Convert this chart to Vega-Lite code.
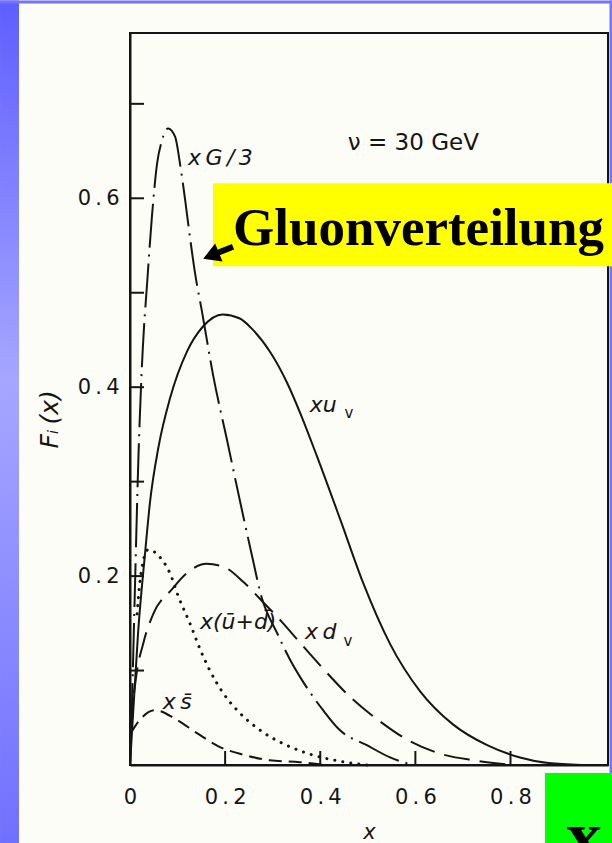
{
  "$schema": "https://vega.github.io/schema/vega-lite/v6.json",
  "width": 478,
  "height": 732,
  "autosize": {"type": "none"},
  "padding": {"left": 130, "right": 4, "top": 33, "bottom": 78},
  "background": "#fdfdf7",
  "config": {
    "view": {"stroke": "#151515", "strokeWidth": 2},
    "axis": {"grid": false}
  },
  "datasets": {
    "curves": [
      {"series": "xu_v", "x": 0.0, "y": 0.0},
      {"series": "xu_v", "x": 0.006, "y": 0.05},
      {"series": "xu_v", "x": 0.017, "y": 0.14},
      {"series": "xu_v", "x": 0.032, "y": 0.226},
      {"series": "xu_v", "x": 0.042, "y": 0.278},
      {"series": "xu_v", "x": 0.06, "y": 0.337},
      {"series": "xu_v", "x": 0.084, "y": 0.388},
      {"series": "xu_v", "x": 0.12, "y": 0.438},
      {"series": "xu_v", "x": 0.153, "y": 0.464},
      {"series": "xu_v", "x": 0.195, "y": 0.477},
      {"series": "xu_v", "x": 0.23, "y": 0.473},
      {"series": "xu_v", "x": 0.258, "y": 0.461},
      {"series": "xu_v", "x": 0.295, "y": 0.437},
      {"series": "xu_v", "x": 0.33, "y": 0.405},
      {"series": "xu_v", "x": 0.36, "y": 0.37},
      {"series": "xu_v", "x": 0.393, "y": 0.327},
      {"series": "xu_v", "x": 0.442, "y": 0.26},
      {"series": "xu_v", "x": 0.49, "y": 0.193},
      {"series": "xu_v", "x": 0.547, "y": 0.128},
      {"series": "xu_v", "x": 0.61, "y": 0.078},
      {"series": "xu_v", "x": 0.679, "y": 0.043},
      {"series": "xu_v", "x": 0.751, "y": 0.021},
      {"series": "xu_v", "x": 0.82, "y": 0.008},
      {"series": "xu_v", "x": 0.88, "y": 0.002},
      {"series": "xu_v", "x": 0.95, "y": 0.0},

      {"series": "xG/3", "x": 0.003, "y": 0.04},
      {"series": "xG/3", "x": 0.01, "y": 0.18},
      {"series": "xG/3", "x": 0.018, "y": 0.33},
      {"series": "xG/3", "x": 0.027, "y": 0.442},
      {"series": "xG/3", "x": 0.036, "y": 0.51},
      {"series": "xG/3", "x": 0.046, "y": 0.58},
      {"series": "xG/3", "x": 0.057, "y": 0.637},
      {"series": "xG/3", "x": 0.067, "y": 0.661},
      {"series": "xG/3", "x": 0.08, "y": 0.674},
      {"series": "xG/3", "x": 0.095, "y": 0.665},
      {"series": "xG/3", "x": 0.105, "y": 0.637},
      {"series": "xG/3", "x": 0.116, "y": 0.598},
      {"series": "xG/3", "x": 0.126, "y": 0.559},
      {"series": "xG/3", "x": 0.137, "y": 0.52},
      {"series": "xG/3", "x": 0.151, "y": 0.481},
      {"series": "xG/3", "x": 0.175, "y": 0.412},
      {"series": "xG/3", "x": 0.204, "y": 0.344},
      {"series": "xG/3", "x": 0.231, "y": 0.28},
      {"series": "xG/3", "x": 0.255, "y": 0.225},
      {"series": "xG/3", "x": 0.277, "y": 0.177},
      {"series": "xG/3", "x": 0.309, "y": 0.14},
      {"series": "xG/3", "x": 0.336, "y": 0.112},
      {"series": "xG/3", "x": 0.364, "y": 0.088},
      {"series": "xG/3", "x": 0.406, "y": 0.058},
      {"series": "xG/3", "x": 0.441, "y": 0.037},
      {"series": "xG/3", "x": 0.498, "y": 0.021},
      {"series": "xG/3", "x": 0.547, "y": 0.008},
      {"series": "xG/3", "x": 0.595, "y": 0.0},

      {"series": "xd_v", "x": 0.0, "y": 0.0},
      {"series": "xd_v", "x": 0.005, "y": 0.055},
      {"series": "xd_v", "x": 0.012, "y": 0.09},
      {"series": "xd_v", "x": 0.028, "y": 0.129},
      {"series": "xd_v", "x": 0.049, "y": 0.16},
      {"series": "xd_v", "x": 0.088, "y": 0.186},
      {"series": "xd_v", "x": 0.119, "y": 0.203},
      {"series": "xd_v", "x": 0.161, "y": 0.213},
      {"series": "xd_v", "x": 0.196, "y": 0.21},
      {"series": "xd_v", "x": 0.238, "y": 0.194},
      {"series": "xd_v", "x": 0.273, "y": 0.176},
      {"series": "xd_v", "x": 0.322, "y": 0.15},
      {"series": "xd_v", "x": 0.36, "y": 0.128},
      {"series": "xd_v", "x": 0.406, "y": 0.102},
      {"series": "xd_v", "x": 0.463, "y": 0.072},
      {"series": "xd_v", "x": 0.526, "y": 0.046},
      {"series": "xd_v", "x": 0.582, "y": 0.027},
      {"series": "xd_v", "x": 0.652, "y": 0.012},
      {"series": "xd_v", "x": 0.722, "y": 0.005},
      {"series": "xd_v", "x": 0.806, "y": 0.0},

      {"series": "x(ū+d̄)", "x": 0.015, "y": 0.16},
      {"series": "x(ū+d̄)", "x": 0.02, "y": 0.19},
      {"series": "x(ū+d̄)", "x": 0.027, "y": 0.214},
      {"series": "x(ū+d̄)", "x": 0.038, "y": 0.228},
      {"series": "x(ū+d̄)", "x": 0.063, "y": 0.22},
      {"series": "x(ū+d̄)", "x": 0.084, "y": 0.203},
      {"series": "x(ū+d̄)", "x": 0.102, "y": 0.178},
      {"series": "x(ū+d̄)", "x": 0.126, "y": 0.15},
      {"series": "x(ū+d̄)", "x": 0.147, "y": 0.123},
      {"series": "x(ū+d̄)", "x": 0.168, "y": 0.1},
      {"series": "x(ū+d̄)", "x": 0.196, "y": 0.076},
      {"series": "x(ū+d̄)", "x": 0.231, "y": 0.055},
      {"series": "x(ū+d̄)", "x": 0.273, "y": 0.037},
      {"series": "x(ū+d̄)", "x": 0.329, "y": 0.021},
      {"series": "x(ū+d̄)", "x": 0.375, "y": 0.012},
      {"series": "x(ū+d̄)", "x": 0.441, "y": 0.004},
      {"series": "x(ū+d̄)", "x": 0.498, "y": 0.0},

      {"series": "xs̄", "x": 0.002, "y": 0.034},
      {"series": "xs̄", "x": 0.021, "y": 0.048},
      {"series": "xs̄", "x": 0.053, "y": 0.058},
      {"series": "xs̄", "x": 0.098, "y": 0.048},
      {"series": "xs̄", "x": 0.14, "y": 0.034},
      {"series": "xs̄", "x": 0.189, "y": 0.019},
      {"series": "xs̄", "x": 0.238, "y": 0.011},
      {"series": "xs̄", "x": 0.294, "y": 0.005},
      {"series": "xs̄", "x": 0.357, "y": 0.003},
      {"series": "xs̄", "x": 0.41, "y": 0.0}
    ]
  },
  "layer": [
    {
      "description": "curves with the shared axes",
      "data": {"name": "curves"},
      "transform": [{"filter": "datum.series == 'xu_v'"}],
      "mark": {"type": "line", "interpolate": "monotone", "color": "#151515", "strokeWidth": 2},
      "encoding": {
        "x": {
          "field": "x", "type": "quantitative",
          "scale": {"domain": [0, 1.005], "nice": false},
          "axis": {
            "values": [0, 0.2, 0.4, 0.6, 0.8],
            "labelExpr": "datum.value == 0 ? '0' : replace(format(datum.value, '.1f'), '.', '\u2009.\u2009')",
            "ticks": false,
            "domainColor": "#151515", "domainWidth": 2,
            "labelFont": "DejaVu Sans", "labelFontSize": 21, "labelColor": "#151515",
            "labelPadding": 21, "labelFlush": false, "labelOverlap": false,
            "title": "x", "titleFont": "DejaVu Sans", "titleFontSize": 21,
            "titleFontStyle": "italic", "titleFontWeight": "normal", "titleColor": "#151515",
            "titlePadding": 14
          }
        },
        "y": {
          "field": "y", "type": "quantitative",
          "scale": {"domain": [0, 0.775], "nice": false},
          "axis": {
            "values": [0.2, 0.4, 0.6],
            "labelExpr": "replace(format(datum.value, '.1f'), '.', '\u2009.\u2009')",
            "ticks": false,
            "domainColor": "#151515", "domainWidth": 2,
            "labelFont": "DejaVu Sans", "labelFontSize": 21, "labelColor": "#151515",
            "labelPadding": 11, "labelFlush": false, "labelOverlap": false,
            "title": null
          }
        }
      }
    },
    {
      "description": "inward ticks on the value axis, every 0.1",
      "data": {"values": [{"v": 0.1}, {"v": 0.2}, {"v": 0.3}, {"v": 0.4}, {"v": 0.5}, {"v": 0.6}, {"v": 0.7}]},
      "mark": {"type": "rule", "color": "#151515", "strokeWidth": 2},
      "encoding": {
        "y": {"field": "v", "type": "quantitative"},
        "x": {"datum": 0},
        "x2": {"datum": 0.0294}
      }
    },
    {
      "description": "inward ticks on the x axis, every 0.2",
      "data": {"values": [{"v": 0.2}, {"v": 0.4}, {"v": 0.6}, {"v": 0.8}]},
      "mark": {"type": "rule", "color": "#151515", "strokeWidth": 2},
      "encoding": {
        "x": {"field": "v", "type": "quantitative"},
        "y": {"datum": 0},
        "y2": {"datum": 0.0148}
      }
    },
    {
      "description": "slide frame strips (left gradient bar)",
      "data": {"values": [{"x": -0.2733, "x1": -0.2334, "y": -0.0825, "y1": 0.8095}]},
      "mark": {
        "type": "rect",
        "color": {
          "gradient": "linear", "x1": 0, "y1": 0, "x2": 0, "y2": 1,
          "stops": [
            {"offset": 0, "color": "#5e5eff"},
            {"offset": 0.45, "color": "#a6a6ff"},
            {"offset": 1, "color": "#7070ff"}
          ]
        }
      },
      "encoding": {
        "x": {"field": "x", "type": "quantitative"},
        "x2": {"field": "x1"},
        "y": {"field": "y", "type": "quantitative"},
        "y2": {"field": "y1"}
      }
    },
    {
      "description": "slide frame strips (top and right bars)",
      "data": {"values": [
        {"x": -0.2733, "x1": 1.0135, "y": 0.8063, "y1": 0.8095},
        {"x": 1.0082, "x1": 1.0135, "y": -0.0825, "y1": 0.8095}
      ]},
      "mark": {"type": "rect", "color": "#7373ff"},
      "encoding": {
        "x": {"field": "x", "type": "quantitative"},
        "x2": {"field": "x1"},
        "y": {"field": "y", "type": "quantitative"},
        "y2": {"field": "y1"}
      }
    },
    {
      "description": "highlight boxes: yellow callout and green corner tag",
      "data": {"values": [
        {"x": 0.1745, "x1": 1.0135, "y": 0.528, "y1": 0.6159, "c": "callout"},
        {"x": 0.8726, "x1": 1.0135, "y": -0.0825, "y1": -0.0085, "c": "tag"}
      ]},
      "mark": {"type": "rect"},
      "encoding": {
        "x": {"field": "x", "type": "quantitative"},
        "x2": {"field": "x1"},
        "y": {"field": "y", "type": "quantitative"},
        "y2": {"field": "y1"},
        "color": {"field": "c", "type": "nominal", "scale": {"domain": ["callout", "tag"], "range": ["#ffff00", "#00ff00"]}, "legend": null}
      }
    },
    {
      "data": {"name": "curves"},
      "transform": [{"filter": "datum.series == 'xG/3'"}],
      "mark": {"type": "line", "interpolate": "monotone", "color": "#151515", "strokeWidth": 2, "strokeDash": [44, 7, 2, 7]},
      "encoding": {
        "x": {"field": "x", "type": "quantitative"},
        "y": {"field": "y", "type": "quantitative"}
      }
    },
    {
      "data": {"name": "curves"},
      "transform": [{"filter": "datum.series == 'xd_v'"}],
      "mark": {"type": "line", "interpolate": "monotone", "color": "#151515", "strokeWidth": 2, "strokeDash": [26, 10]},
      "encoding": {
        "x": {"field": "x", "type": "quantitative"},
        "y": {"field": "y", "type": "quantitative"}
      }
    },
    {
      "data": {"name": "curves"},
      "transform": [{"filter": "datum.series == 'x(ū+d̄)'"}],
      "mark": {"type": "line", "interpolate": "monotone", "color": "#151515", "strokeWidth": 3, "strokeCap": "round", "strokeDash": [0.1, 8]},
      "encoding": {
        "x": {"field": "x", "type": "quantitative"},
        "y": {"field": "y", "type": "quantitative"}
      }
    },
    {
      "data": {"name": "curves"},
      "transform": [{"filter": "datum.series == 'xs̄'"}],
      "mark": {"type": "line", "interpolate": "monotone", "color": "#151515", "strokeWidth": 2, "strokeDash": [13, 7]},
      "encoding": {
        "x": {"field": "x", "type": "quantitative"},
        "y": {"field": "y", "type": "quantitative"}
      }
    },
    {
      "description": "curve labels",
      "data": {"values": [
        {"text": "x\u2009G\u2009/\u20093", "x": 0.122, "y": 0.643},
        {"text": "xu", "x": 0.378, "y": 0.381},
        {"text": "x(ū+d̄)", "x": 0.147, "y": 0.151},
        {"text": "x\u2009d", "x": 0.368, "y": 0.1407},
        {"text": "x\u2009s̄", "x": 0.069, "y": 0.0667}
      ]},
      "mark": {"type": "text", "font": "DejaVu Sans", "fontStyle": "italic", "fontSize": 22, "align": "left", "baseline": "middle", "color": "#151515"},
      "encoding": {
        "x": {"field": "x", "type": "quantitative"},
        "y": {"field": "y", "type": "quantitative"},
        "text": {"field": "text"}
      }
    },
    {
      "description": "valence subscripts",
      "data": {"values": [
        {"text": "v", "x": 0.451, "y": 0.3725},
        {"text": "v", "x": 0.449, "y": 0.131}
      ]},
      "mark": {"type": "text", "font": "DejaVu Sans", "fontSize": 15, "align": "left", "baseline": "middle", "color": "#151515"},
      "encoding": {
        "x": {"field": "x", "type": "quantitative"},
        "y": {"field": "y", "type": "quantitative"},
        "text": {"field": "text"}
      }
    },
    {
      "description": "beam energy note",
      "data": {"values": [{"text": "ν = 30 GeV", "x": 0.458, "y": 0.659}]},
      "mark": {"type": "text", "font": "DejaVu Sans", "fontSize": 23, "align": "left", "baseline": "middle", "color": "#151515"},
      "encoding": {
        "x": {"field": "x", "type": "quantitative"},
        "y": {"field": "y", "type": "quantitative"},
        "text": {"field": "text"}
      }
    },
    {
      "description": "y axis title",
      "data": {"values": [{"text": "Fᵢ\u2009(x)", "x": -0.168, "y": 0.366}]},
      "mark": {"type": "text", "font": "DejaVu Sans", "fontStyle": "italic", "fontSize": 25, "angle": 270, "align": "center", "baseline": "middle", "color": "#151515"},
      "encoding": {
        "x": {"field": "x", "type": "quantitative"},
        "y": {"field": "y", "type": "quantitative"},
        "text": {"field": "text"}
      }
    },
    {
      "description": "callout arrow shaft",
      "data": {"values": [{"x": 0.1766, "y": 0.5407}, {"x": 0.2166, "y": 0.5487}]},
      "mark": {"type": "line", "color": "#000000", "strokeWidth": 6},
      "encoding": {
        "x": {"field": "x", "type": "quantitative"},
        "y": {"field": "y", "type": "quantitative"}
      }
    },
    {
      "description": "callout arrow head",
      "data": {"values": [{"x": 0.1703, "y": 0.5393}]},
      "mark": {"type": "point", "shape": "triangle-up", "filled": true, "size": 380, "angle": 248, "color": "#000000", "opacity": 1},
      "encoding": {
        "x": {"field": "x", "type": "quantitative"},
        "y": {"field": "y", "type": "quantitative"}
      }
    },
    {
      "description": "callout text",
      "data": {"values": [{"text": "Gluonverteilung", "x": 0.2166, "y": 0.5503}]},
      "mark": {"type": "text", "font": "Liberation Serif", "fontWeight": "bold", "fontSize": 53, "align": "left", "baseline": "alphabetic", "color": "#000000"},
      "encoding": {
        "x": {"field": "x", "type": "quantitative"},
        "y": {"field": "y", "type": "quantitative"},
        "text": {"field": "text"}
      }
    },
    {
      "description": "corner tag letter",
      "data": {"values": [{"text": "x", "x": 0.9546, "y": -0.1005}]},
      "mark": {"type": "text", "font": "Liberation Serif", "fontWeight": "bold", "fontSize": 72, "align": "center", "baseline": "alphabetic", "color": "#000000"},
      "encoding": {
        "x": {"field": "x", "type": "quantitative"},
        "y": {"field": "y", "type": "quantitative"},
        "text": {"field": "text"}
      }
    }
  ]
}
